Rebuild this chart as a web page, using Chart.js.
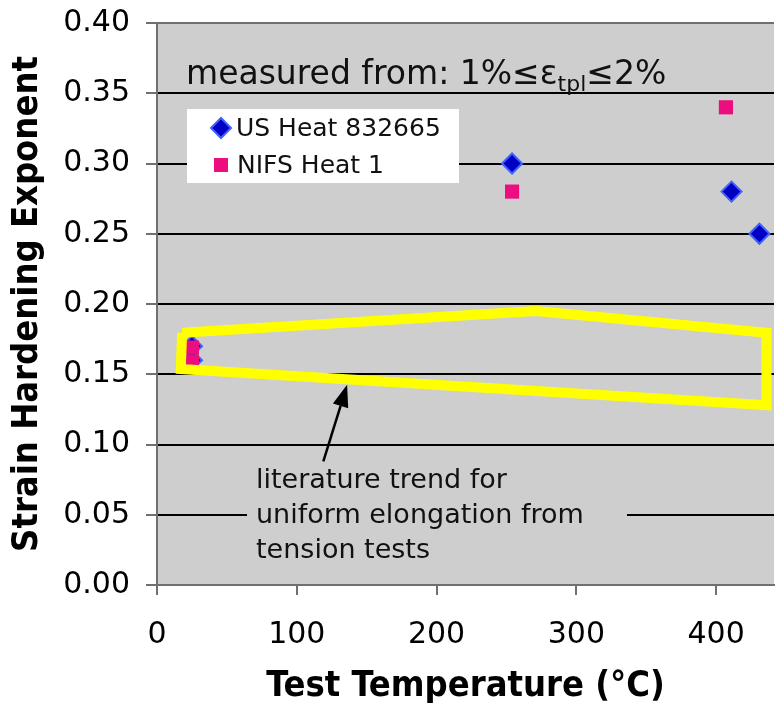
<!DOCTYPE html>
<html>
<head>
<meta charset="utf-8">
<script src="https://cdn.jsdelivr.net/npm/chart.js@4.4.1/dist/chart.umd.min.js"></script>
<style>
  html, body { margin: 0; padding: 0; background: #fff; overflow: hidden; }
  #chart { display: block; }
</style>
</head>
<body>
<!-- a bit wider than the window: the plot runs off the right edge like the original -->
<canvas id="chart" width="786" height="707"></canvas>
<script>
// values
const usTemp = [25, 25, 254, 411, 431];
const usExp = [0.170, 0.160, 0.300, 0.280, 0.250];
const nifsTemp = [25, 25, 254, 407];
const nifsExp = [0.169, 0.159, 0.280, 0.340];
// yellow outline of the literature trend band (closed)
const trendTemp = [18, 271, 436, 436, 17, 18];
const trendExp = [0.1795, 0.1950, 0.1795, 0.1280, 0.1537, 0.1795];
// arrow from note text to the band
const arrowTemp = [119, 136];
const arrowExp = [0.088, 0.1425];
const xTicks = [0, 100, 200, 300, 400];
const yTicks = [0, 0.05, 0.10, 0.15, 0.20, 0.25, 0.30, 0.35, 0.40];
const seriesNames = ['US Heat 832665', 'NIFS Heat 1'];
const noteLines = ['literature trend for', 'uniform elongation from', 'tension tests'];

const PLOT_BG = '#cecece';
const AXIS_GRAY = '#707070';
const BLUE_FILL = '#0000c4';
const BLUE_EDGE = '#3d62ff';
const PINK = '#ec0d7f';
const FONT = "'DejaVu Sans', Verdana, sans-serif";
const BOLD_FONT = "'DejaVu Sans Condensed', 'DejaVu Sans', sans-serif";

function toPoints(xs, ys) {
  return xs.map((x, i) => ({ x, y: ys[i] }));
}

function drawDiamond(ctx, x, y, r) {
  ctx.beginPath();
  ctx.moveTo(x - r, y);
  ctx.lineTo(x, y - r);
  ctx.lineTo(x + r, y);
  ctx.lineTo(x, y + r);
  ctx.closePath();
  ctx.fillStyle = BLUE_FILL;
  ctx.fill();
  ctx.lineWidth = 2;
  ctx.strokeStyle = BLUE_EDGE;
  ctx.stroke();
}

const plotDecor = {
  id: 'plotDecor',
  beforeDraw(chart) {
    const { ctx, chartArea: a } = chart;
    ctx.save();
    ctx.fillStyle = PLOT_BG;
    ctx.fillRect(a.left, a.top, a.right - a.left, a.bottom - a.top);
    ctx.restore();
  },
  beforeDatasetsDraw(chart) {
    const { ctx, chartArea: a } = chart;
    ctx.save();
    // legend box
    ctx.fillStyle = '#fff';
    ctx.fillRect(a.left + 30, a.top + 86, 272, 74);
    // box behind the note, hides the gridline
    ctx.fillStyle = PLOT_BG;
    ctx.fillRect(a.left + 90, a.top + 437, 380, 110);
    ctx.restore();
  },
  afterDatasetsDraw(chart) {
    const { ctx, chartArea: a, scales } = chart;
    const sx = scales.x, sy = scales.y;
    ctx.save();

    // arrow
    const x0 = sx.getPixelForValue(arrowTemp[0]), y0 = sy.getPixelForValue(arrowExp[0]);
    const x1 = sx.getPixelForValue(arrowTemp[1]), y1 = sy.getPixelForValue(arrowExp[1]);
    const ang = Math.atan2(y1 - y0, x1 - x0);
    const headLen = 22, headW = 8;
    const bx = x1 - headLen * Math.cos(ang), by = y1 - headLen * Math.sin(ang);
    ctx.strokeStyle = '#000';
    ctx.lineWidth = 2.5;
    ctx.beginPath();
    ctx.moveTo(x0, y0);
    ctx.lineTo(bx, by);
    ctx.stroke();
    ctx.beginPath();
    ctx.moveTo(x1, y1);
    ctx.lineTo(bx + headW * Math.sin(ang), by - headW * Math.cos(ang));
    ctx.lineTo(bx - headW * Math.sin(ang), by + headW * Math.cos(ang));
    ctx.closePath();
    ctx.fillStyle = '#000';
    ctx.fill();

    // note text
    ctx.fillStyle = '#111';
    ctx.font = '27px ' + FONT;
    ctx.textBaseline = 'alphabetic';
    ctx.textAlign = 'left';
    noteLines.forEach((t, i) => ctx.fillText(t, a.left + 99, a.top + 465 + i * 35));

    // header text with subscript
    let tx = a.left + 29;
    const ty = a.top + 61;
    ctx.font = '33px ' + FONT;
    const part1 = 'measured from: 1%\u2264\u03b5';
    ctx.fillText(part1, tx, ty);
    tx += ctx.measureText(part1).width;
    ctx.font = '22px ' + FONT;
    ctx.fillText('tpl', tx, ty + 7);
    tx += ctx.measureText('tpl').width;
    ctx.font = '33px ' + FONT;
    ctx.fillText('\u22642%', tx, ty);

    // legend entries
    const lx = a.left + 64;
    const ly1 = a.top + 105, ly2 = a.top + 142;
    drawDiamond(ctx, lx, ly1, 10);
    ctx.fillStyle = PINK;
    ctx.fillRect(lx - 7, ly2 - 7, 14, 14);
    ctx.fillStyle = '#111';
    ctx.font = '25px ' + FONT;
    ctx.textBaseline = 'middle';
    ctx.fillText(seriesNames[0], lx + 15, ly1 + 1);
    ctx.fillText(seriesNames[1], lx + 16, ly2 + 1);
    ctx.restore();
  }
};

const ctx = document.getElementById('chart').getContext('2d');
new Chart(ctx, {
  type: 'scatter',
  data: {
    datasets: [
      {
        label: 'trend',
        data: toPoints(trendTemp, trendExp),
        showLine: true,
        borderColor: '#ffff00',
        borderWidth: 10,
        borderJoinStyle: 'miter',
        pointRadius: 0,
        fill: false,
        tension: 0,
        order: 0
      },
      {
        label: seriesNames[1],
        data: toPoints(nifsTemp, nifsExp),
        pointStyle: 'rect',
        pointRadius: 10,
        backgroundColor: PINK,
        borderColor: PINK,
        borderWidth: 0,
        order: 1
      },
      {
        label: seriesNames[0],
        data: toPoints(usTemp, usExp),
        pointStyle: 'rectRot',
        pointRadius: 10,
        backgroundColor: BLUE_FILL,
        borderColor: BLUE_EDGE,
        borderWidth: 2,
        order: 2
      }
    ]
  },
  options: {
    responsive: false,
    animation: false,
    devicePixelRatio: 1,
    layout: { padding: { top: 23, right: 0, left: 0, bottom: 0 } },
    plugins: {
      legend: { display: false },
      tooltip: { enabled: false }
    },
    scales: {
      x: {
        type: 'linear',
        min: 0,
        max: 441.4,
        afterBuildTicks: (s) => { s.ticks = xTicks.map(v => ({ value: v })); },
        afterFit: (s) => {
          s.height = 122;
          s.paddingLeft = 0;
          s.paddingRight = 0;
        },
        ticks: {
          color: '#000',
          font: { family: FONT, size: 30 },
          padding: 22,
          maxRotation: 0,
          callback: (v) => String(v)
        },
        grid: { drawOnChartArea: false, drawTicks: true, tickLength: 10, color: AXIS_GRAY, lineWidth: 2 },
        border: { display: true, color: AXIS_GRAY, width: 2 },
        title: {
          display: true,
          text: 'Test Temperature (\u00b0C)',
          color: '#000',
          font: { family: BOLD_FONT, size: 36, weight: 'bold', lineHeight: 1 },
          padding: { top: 0, bottom: 2 }
        }
      },
      y: {
        min: 0,
        max: 0.4,
        afterBuildTicks: (s) => { s.ticks = yTicks.map(v => ({ value: v })); },
        afterFit: (s) => {
          s.width = 157;
          s.paddingTop = 0;
          s.paddingBottom = 0;
        },
        ticks: {
          color: '#000',
          font: { family: FONT, size: 30 },
          padding: 16,
          callback: (v) => Number(v).toFixed(2)
        },
        grid: {
          color: (c) => (c.tick && (c.tick.value === 0 || Math.abs(c.tick.value - 0.4) < 1e-9)) ? AXIS_GRAY : '#000',
          lineWidth: 2,
          tickLength: 11,
          tickColor: AXIS_GRAY
        },
        border: { display: true, color: AXIS_GRAY, width: 2 },
        title: {
          display: true,
          text: 'Strain Hardening Exponent',
          color: '#000',
          font: { family: BOLD_FONT, size: 36, weight: 'bold', lineHeight: 1 },
          padding: { top: 10, bottom: 0 }
        }
      }
    }
  },
  plugins: [plotDecor]
});
</script>
</body>
</html>
